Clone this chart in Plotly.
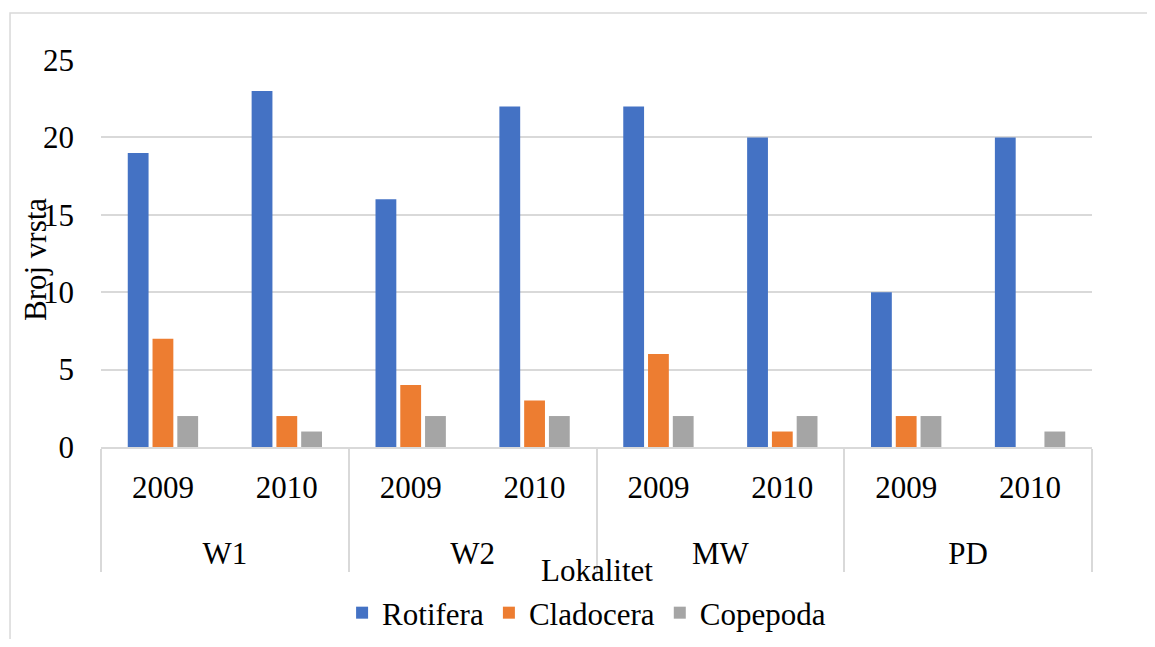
import plotly.graph_objects as go

locations = ["W1", "W1", "W2", "W2", "MW", "MW", "PD", "PD"]
years = ["2009", "2010", "2009", "2010", "2009", "2010", "2009", "2010"]
rotifera = [19, 23, 16, 22, 22, 20, 10, 20]
cladocera = [7, 2, 4, 3, 6, 1, 2, 0]
copepoda = [2, 1, 2, 2, 2, 2, 2, 1]

series = [("Rotifera", rotifera, "#4472c4"),
          ("Cladocera", cladocera, "#ed7d31"),
          ("Copepoda", copepoda, "#a5a5a5")]

FONT = "Times New Roman, Liberation Serif, serif"
F = dict(family=FONT, size=31, color="black")

# group labels are pushed one line down to match the original spacing
loc_labels = ["<br>" + loc for loc in locations]

fig = go.Figure()
for name, vals, col in series:
    fig.add_trace(go.Bar(x=[loc_labels, years], y=vals, name=name,
                         marker=dict(color=col, line=dict(width=0))))

# page body adds 8px margin; plot area placed so it lands at x 101-1092, y 60-447
fig.update_layout(
    width=1139, height=631,
    paper_bgcolor="white", plot_bgcolor="white",
    font=F,
    barmode="group", bargap=0.4, bargroupgap=0.16,
    margin=dict(l=93, r=55, t=52, b=192, autoexpand=False),
    showlegend=True,
    legend=dict(orientation="h", x=0.49, xanchor="center", y=-0.429, yanchor="middle",
                font=F, bgcolor="rgba(0,0,0,0)", itemwidth=30,
                tracegroupgap=0),
    xaxis=dict(type="multicategory", showgrid=False, showline=True, automargin=False,
               linecolor="#d9d9d9", linewidth=2, ticks="",
               showdividers=True, dividercolor="#d9d9d9", dividerwidth=2,
               tickfont=F, ticklabelstandoff=12),
    yaxis=dict(range=[0, 25], dtick=5, showgrid=True, gridcolor="#d9d9d9",
               gridwidth=2, zeroline=False, showline=False, ticks="", automargin=False,
               tickfont=F, ticklabelstandoff=26),
    shapes=[dict(type="rect", xref="paper", yref="paper",
                 x0=-0.0918, x1=1.2, y0=-0.7, y1=1.1214,
                 line=dict(color="#d9d9d9", width=1.5), layer="below")],
    annotations=[
        dict(text="Broj vrsta", xref="paper", yref="paper",
             x=(36 - 101) / 991, y=(447 - 260) / 387, textangle=-90,
             showarrow=False, font=F, xanchor="center", yanchor="middle"),
        dict(text="Lokalitet", xref="paper", yref="paper",
             x=(597 - 101) / 991, y=(447 - 570) / 387,
             showarrow=False, font=F, xanchor="center", yanchor="middle"),
    ],
)

fig.write_html("out.html")
